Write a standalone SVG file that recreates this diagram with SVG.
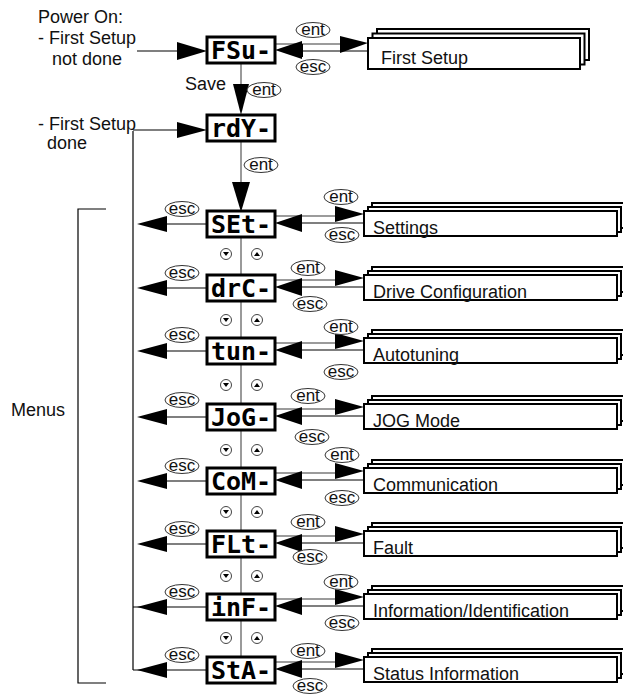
<svg xmlns="http://www.w3.org/2000/svg" width="623" height="695" viewBox="0 0 623 695">
<style>
text{font-family:"Liberation Sans",Arial,sans-serif;fill:#111}
.lbl{font-size:18px}
.key{font-size:17px;text-anchor:middle}
.oval{fill:#fff;stroke:#333;stroke-width:1}
.node rect{fill:#fff;stroke:#000;stroke-width:3}
.node text{font-family:"DejaVu Sans Mono",monospace;font-weight:bold;font-size:25px;text-anchor:middle;fill:#000}
.sub rect{fill:#fff;stroke:#000;stroke-width:2}
.sub text{font-size:18px}
.g{stroke:#7a7a7a;stroke-width:1.5;fill:none}
.k{stroke:#000;stroke-width:1.2;fill:none}
.ah{fill:#000}
.btn circle{fill:#fff;stroke:#444;stroke-width:1}
.btn path{fill:#000}
</style>

<!-- free texts -->
<text class="lbl" x="38" y="23">Power On:</text>
<text class="lbl" x="38" y="44">- First Setup</text>
<text class="lbl" x="52" y="65">not done</text>
<text class="lbl" x="38" y="130">- First Setup</text>
<text class="lbl" x="47" y="149">done</text>
<text class="lbl" x="11" y="416">Menus</text>
<text class="lbl" x="185" y="90">Save</text>

<g id="connectors">
  <!-- bracket -->
  <path class="k" d="M106,209 H78 V683 H106"/>
  <!-- main vertical -->
  <path class="g" d="M241,63 V90 M241,142 V185 M241,237 V657"/>
  <!-- left vertical -->
  <path class="k" d="M133,131 V670"/>
  <!-- power on to FSu -->
  <path class="k" d="M137,51 H180"/>
  <polygon class="ah" points="177,42 207,51 177,60"/>
  <!-- first setup done to rdY -->
  <path class="k" d="M133,130 H180"/>
  <polygon class="ah" points="177,122 207,130 177,138"/>
  <!-- FSu to rdY -->
  <polygon class="ah" points="233,84 249,84 241,115"/>
  <!-- rdY to SEt -->
  <polygon class="ah" points="232,182 250,182 241,212"/>
  <!-- FSu <-> First Setup -->
  <path class="g" d="M275,44 H342"/>
  <path class="k" d="M302,51 H368"/>
  <polygon class="ah" points="340,36 368,43 340,53"/>
  <polygon class="ah" points="302,41 275,50 302,59"/>
  <rect class="ah" x="300" y="44" width="3" height="13"/>

  <!-- SEt 224 -->
  <path class="k" d="M167,224 H207"/><polygon class="ah" points="167,216 137,224 167,232"/>
  <path class="g" d="M275,216 H337"/><path class="k" d="M302,223 H364"/>
  <polygon class="ah" points="335,206 364,214 335,222"/><polygon class="ah" points="302,214 275,223 302,232"/>
  <!-- drC 288 -->
  <path class="k" d="M167,288 H207"/><polygon class="ah" points="167,280 137,288 167,296"/>
  <path class="g" d="M275,280 H337"/><path class="k" d="M302,287 H364"/>
  <polygon class="ah" points="335,270 364,278 335,286"/><polygon class="ah" points="302,278 275,287 302,296"/>
  <!-- tun 351 -->
  <path class="k" d="M167,351 H207"/><polygon class="ah" points="167,343 137,351 167,359"/>
  <path class="g" d="M275,343 H337"/><path class="k" d="M302,350 H364"/>
  <polygon class="ah" points="335,333 364,341 335,349"/><polygon class="ah" points="302,341 275,350 302,359"/>
  <!-- JoG 417 -->
  <path class="k" d="M167,417 H207"/><polygon class="ah" points="167,409 137,417 167,425"/>
  <path class="g" d="M275,409 H337"/><path class="k" d="M302,416 H364"/>
  <polygon class="ah" points="335,399 364,407 335,415"/><polygon class="ah" points="302,407 275,416 302,425"/>
  <!-- CoM 481 -->
  <path class="k" d="M167,481 H207"/><polygon class="ah" points="167,473 137,481 167,489"/>
  <path class="g" d="M275,473 H337"/><path class="k" d="M302,480 H364"/>
  <polygon class="ah" points="335,463 364,471 335,479"/><polygon class="ah" points="302,471 275,480 302,489"/>
  <!-- FLt 544 -->
  <path class="k" d="M167,544 H207"/><polygon class="ah" points="167,536 137,544 167,552"/>
  <path class="g" d="M275,536 H337"/><path class="k" d="M302,543 H364"/>
  <polygon class="ah" points="335,526 364,534 335,542"/><polygon class="ah" points="302,534 275,543 302,552"/>
  <!-- inF 607 -->
  <path class="k" d="M133,607 H207"/><polygon class="ah" points="167,599 137,607 167,615"/>
  <path class="g" d="M275,599 H337"/><path class="k" d="M302,606 H364"/>
  <polygon class="ah" points="335,589 364,597 335,605"/><polygon class="ah" points="302,597 275,606 302,615"/>
  <!-- StA 670 -->
  <path class="k" d="M133,670 H207"/><polygon class="ah" points="167,662 137,670 167,678"/>
  <path class="g" d="M275,662 H337"/><path class="k" d="M302,669 H364"/>
  <polygon class="ah" points="335,652 364,660 335,668"/><polygon class="ah" points="302,660 275,669 302,678"/>
</g>

<!-- key labels -->
<g id="keys">
  <ellipse class="oval" cx="313" cy="30" rx="17" ry="7.5"/><text class="key" x="313" y="35">ent</text>
  <ellipse class="oval" cx="313" cy="67" rx="17" ry="7.5"/><text class="key" x="313" y="72">esc</text>
  <ellipse class="oval" cx="264" cy="90" rx="17" ry="7.5"/><text class="key" x="264" y="95">ent</text>
  <ellipse class="oval" cx="261" cy="165" rx="17" ry="7.5"/><text class="key" x="261" y="170">ent</text>

  <ellipse class="oval" cx="341" cy="197" rx="17" ry="7.5"/><text class="key" x="341" y="202">ent</text>
  <ellipse class="oval" cx="342" cy="235" rx="17" ry="7.5"/><text class="key" x="342" y="240">esc</text>
  <ellipse class="oval" cx="308" cy="268" rx="17" ry="7.5"/><text class="key" x="308" y="273">ent</text>
  <ellipse class="oval" cx="310" cy="304" rx="17" ry="7.5"/><text class="key" x="310" y="309">esc</text>
  <ellipse class="oval" cx="341" cy="327" rx="17" ry="7.5"/><text class="key" x="341" y="332">ent</text>
  <ellipse class="oval" cx="341" cy="372" rx="17" ry="7.5"/><text class="key" x="341" y="377">esc</text>
  <ellipse class="oval" cx="308" cy="396" rx="17" ry="7.5"/><text class="key" x="308" y="401">ent</text>
  <ellipse class="oval" cx="312" cy="437" rx="17" ry="7.5"/><text class="key" x="312" y="442">esc</text>
  <ellipse class="oval" cx="342" cy="455" rx="17" ry="7.5"/><text class="key" x="342" y="460">ent</text>
  <ellipse class="oval" cx="342" cy="498" rx="17" ry="7.5"/><text class="key" x="342" y="503">esc</text>
  <ellipse class="oval" cx="308" cy="522" rx="17" ry="7.5"/><text class="key" x="308" y="527">ent</text>
  <ellipse class="oval" cx="310" cy="557" rx="17" ry="7.5"/><text class="key" x="310" y="562">esc</text>
  <ellipse class="oval" cx="341" cy="582" rx="17" ry="7.5"/><text class="key" x="341" y="587">ent</text>
  <ellipse class="oval" cx="342" cy="623" rx="17" ry="7.5"/><text class="key" x="342" y="628">esc</text>
  <ellipse class="oval" cx="308" cy="651" rx="17" ry="7.5"/><text class="key" x="308" y="656">ent</text>
  <ellipse class="oval" cx="310" cy="686" rx="17" ry="7.5"/><text class="key" x="310" y="691">esc</text>

  <ellipse class="oval" cx="182" cy="209" rx="17" ry="7.5"/><text class="key" x="182" y="214">esc</text>
  <ellipse class="oval" cx="182" cy="273" rx="17" ry="7.5"/><text class="key" x="182" y="278">esc</text>
  <ellipse class="oval" cx="182" cy="335" rx="17" ry="7.5"/><text class="key" x="182" y="340">esc</text>
  <ellipse class="oval" cx="182" cy="400" rx="17" ry="7.5"/><text class="key" x="182" y="405">esc</text>
  <ellipse class="oval" cx="182" cy="466" rx="17" ry="7.5"/><text class="key" x="182" y="471">esc</text>
  <ellipse class="oval" cx="182" cy="529" rx="17" ry="7.5"/><text class="key" x="182" y="534">esc</text>
  <ellipse class="oval" cx="182" cy="592" rx="17" ry="7.5"/><text class="key" x="182" y="597">esc</text>
  <ellipse class="oval" cx="182" cy="655" rx="17" ry="7.5"/><text class="key" x="182" y="660">esc</text>
</g>

<!-- up/down buttons -->
<g id="buttons" class="btn">
  <circle cx="226" cy="254" r="5.5"/><path d="M223,252 H229 L226,256 Z"/>
  <circle cx="257" cy="254" r="5.5"/><path d="M254,256 H260 L257,252 Z"/>
  <circle cx="226" cy="320" r="5.5"/><path d="M223,318 H229 L226,322 Z"/>
  <circle cx="257" cy="320" r="5.5"/><path d="M254,322 H260 L257,318 Z"/>
  <circle cx="226" cy="385" r="5.5"/><path d="M223,383 H229 L226,387 Z"/>
  <circle cx="257" cy="385" r="5.5"/><path d="M254,387 H260 L257,383 Z"/>
  <circle cx="226" cy="450" r="5.5"/><path d="M223,448 H229 L226,452 Z"/>
  <circle cx="257" cy="450" r="5.5"/><path d="M254,452 H260 L257,448 Z"/>
  <circle cx="226" cy="512" r="5.5"/><path d="M223,510 H229 L226,514 Z"/>
  <circle cx="257" cy="512" r="5.5"/><path d="M254,514 H260 L257,510 Z"/>
  <circle cx="226" cy="576" r="5.5"/><path d="M223,574 H229 L226,578 Z"/>
  <circle cx="257" cy="576" r="5.5"/><path d="M254,578 H260 L257,574 Z"/>
  <circle cx="226" cy="638" r="5.5"/><path d="M223,636 H229 L226,640 Z"/>
  <circle cx="257" cy="638" r="5.5"/><path d="M254,640 H260 L257,636 Z"/>
</g>

<!-- display nodes -->
<g id="n-FSu" class="node"><rect x="207" y="37" width="68" height="26"/><text x="241" y="59">FSu-</text></g>
<g id="n-rdY" class="node"><rect x="207" y="115" width="68" height="26"/><text x="241" y="137">rdY-</text></g>
<g id="n-SEt" class="node"><rect x="207" y="211" width="68" height="26"/><text x="241" y="233">SEt-</text></g>
<g id="n-drC" class="node"><rect x="207" y="275" width="68" height="26"/><text x="241" y="297">drC-</text></g>
<g id="n-tun" class="node"><rect x="207" y="338" width="68" height="26"/><text x="241" y="360">tun-</text></g>
<g id="n-JoG" class="node"><rect x="207" y="404" width="68" height="26"/><text x="241" y="426">JoG-</text></g>
<g id="n-CoM" class="node"><rect x="207" y="468" width="68" height="26"/><text x="241" y="490">CoM-</text></g>
<g id="n-FLt" class="node"><rect x="207" y="531" width="68" height="26"/><text x="241" y="553">FLt-</text></g>
<g id="n-inF" class="node"><rect x="207" y="594" width="68" height="26"/><text x="241" y="616">inF-</text></g>
<g id="n-StA" class="node"><rect x="207" y="657" width="68" height="26"/><text x="241" y="679">StA-</text></g>

<!-- submenu stacks -->
<g id="s-first" class="sub">
  <rect x="377" y="29" width="212" height="31"/><rect x="372.5" y="33.5" width="212" height="31"/><rect x="368" y="38" width="212" height="31"/>
  <text x="381" y="64">First Setup</text>
</g>
<g id="s-settings" class="sub">
  <rect x="372" y="203" width="253" height="25"/><rect x="368" y="207" width="253" height="25"/><rect x="364" y="211" width="253" height="25"/>
  <text x="373" y="234">Settings</text>
</g>
<g id="s-drive" class="sub">
  <rect x="372" y="267" width="253" height="25"/><rect x="368" y="271" width="253" height="25"/><rect x="364" y="275" width="253" height="25"/>
  <text x="373" y="298">Drive Configuration</text>
</g>
<g id="s-auto" class="sub">
  <rect x="372" y="330" width="253" height="25"/><rect x="368" y="334" width="253" height="25"/><rect x="364" y="338" width="253" height="25"/>
  <text x="373" y="361">Autotuning</text>
</g>
<g id="s-jog" class="sub">
  <rect x="372" y="396" width="253" height="25"/><rect x="368" y="400" width="253" height="25"/><rect x="364" y="404" width="253" height="25"/>
  <text x="373" y="427">JOG Mode</text>
</g>
<g id="s-comm" class="sub">
  <rect x="372" y="460" width="253" height="25"/><rect x="368" y="464" width="253" height="25"/><rect x="364" y="468" width="253" height="25"/>
  <text x="373" y="491">Communication</text>
</g>
<g id="s-fault" class="sub">
  <rect x="372" y="523" width="253" height="25"/><rect x="368" y="527" width="253" height="25"/><rect x="364" y="531" width="253" height="25"/>
  <text x="373" y="554">Fault</text>
</g>
<g id="s-info" class="sub">
  <rect x="372" y="586" width="253" height="25"/><rect x="368" y="590" width="253" height="25"/><rect x="364" y="594" width="253" height="25"/>
  <text x="373" y="617">Information/Identification</text>
</g>
<g id="s-status" class="sub">
  <rect x="372" y="649" width="253" height="25"/><rect x="368" y="653" width="253" height="25"/><rect x="364" y="657" width="253" height="25"/>
  <text x="373" y="680">Status Information</text>
</g>
</svg>
